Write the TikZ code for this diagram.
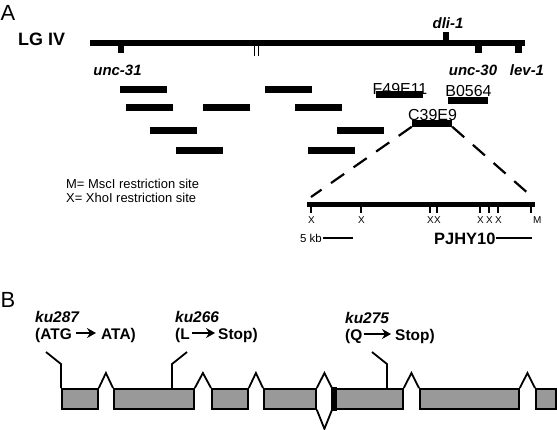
\documentclass[tikz,border=0pt]{standalone}
\usepackage{fontspec}
\setmainfont{Liberation Sans}
\usetikzlibrary{arrows.meta,positioning,calc}
\tikzset{
  clonebar/.style={rectangle,fill=black,inner sep=0pt,minimum width=47bp,minimum height=7bp},
  locus/.style={rectangle,fill=black,inner sep=0pt,minimum width=6.5bp,minimum height=8bp},
  genelabel/.style={font=\fontsize{15}{15}\selectfont\bfseries\itshape,inner sep=0pt},
  clonelabel/.style={font=\fontsize{16}{16}\selectfont,inner sep=0pt},
  sitelabel/.style={font=\fontsize{10}{10}\selectfont,inner sep=0pt},
  legendtext/.style={font=\fontsize{13}{13}\selectfont,inner sep=0pt,anchor=base west},
  panel/.style={font=\fontsize{22}{22}\selectfont,inner sep=0pt,anchor=base west},
  zoomline/.style={line width=2.2bp,dash pattern=on 16bp off 11.5bp},
  exon/.style={draw,fill=black!40,line width=1.8bp,inner sep=0pt,minimum height=20bp,anchor=north west},
  intron/.style={line width=1.8bp},
  pointer/.style={line width=1.8bp},
  mutlabel/.style={font=\fontsize{15.5}{15.5}\selectfont\bfseries,inner sep=0pt,anchor=base west},
  mutarrow/.style={line width=2.2bp,-{Stealth[length=9bp,width=10bp,inset=3bp]}}
}
\begin{document}
\begin{tikzpicture}[x=1bp,y=-1bp]
\useasboundingbox (0,0) rectangle (557,429);

% A: linkage group
\node[panel] (pA) at (0.5,20) {A};
\node[font=\fontsize{18}{18}\selectfont\bfseries,inner sep=0pt,anchor=base west] (lg) at (18,45) {LG IV};
\coordinate (lgL) at (90,42.5);
\coordinate (lgR) at (525,42.5);
\draw[line width=6bp] (lgL) -- (lgR);
\node[locus,anchor=north] (unc31m) at (121,45) {};
\node[locus,anchor=south] (dli1m) at (446,40) {};
\node[locus,anchor=north] (unc30m) at (478.5,45) {};
\node[locus,anchor=north] (lev1m) at (518.5,45) {};
\draw[line width=1.6bp] (254.5,46) -- (254.5,55.5) (258.5,46) -- (258.5,55.5);

\node[genelabel,anchor=base] (unc31) at (117.5,75) {unc-31};
\node[genelabel,anchor=base] (dli1) at (448,28) {dli-1};
\node[genelabel,anchor=base] (unc30) at (473,75) {unc-30};
\node[genelabel,anchor=base] (lev1) at (527,75) {lev-1};

% contig
\foreach \x/\y [count=\i] in {143/89.5,288.5/89.5,149/107,226.5/107,318.5/107,
                              173/130.5,360.5/130.5,199.5/150.5,331.5/150.5}
  \node[clonebar] (yac\i) at (\x,\y) {};

\node[clonebar] (f49e11) at (399.5,94) {};
\node[clonebar,minimum width=40bp] (b0564) at (468,100.5) {};
\node[clonebar,minimum width=40bp] (c39e9) at (432,123) {};
\node[clonelabel,anchor=base] at (400,94) {F49E11};
\node[clonelabel,anchor=base] at (468.5,96) {B0564};
\node[clonelabel,anchor=base] at (432.5,120) {C39E9};

% restriction map of the cosmid
\coordinate (mapL) at (307,204.5);
\coordinate (mapR) at (535,204.5);
\coordinate (zoomL) at (311,197);
\coordinate (zoomR) at (534,198.5);
\draw[zoomline] (c39e9.south west) -- (zoomL);
\draw[zoomline] (c39e9.south east) -- (zoomR);
\draw[line width=4.5bp] (mapL) -- (mapR);
\foreach \x [count=\i] in {311,361,430,437,480,489,498}
  {
    \draw[line width=1.5bp] (\x,206) -- (\x,213);
    \node[sitelabel,anchor=base] (x\i) at (\x+0.5,223) {X};
  }
\draw[line width=1.5bp] (531,206) -- (531,213);
\node[sitelabel,anchor=base west] (m1) at (533,223) {M};

\node[font=\fontsize{11.5}{11.5}\selectfont,inner sep=0pt,anchor=base east] (kb) at (322,242) {5 kb};
\draw[line width=1.5bp] (323,238) -- (353,238);
\node[font=\fontsize{16.5}{16.5}\selectfont\bfseries,inner sep=0pt,anchor=base west] (pjhy) at (434,244) {PJHY10};
\draw[line width=1.5bp] (pjhy.east |- 0,238) -- (532,238);

\node[legendtext] (legM) at (66,188) {M= MscI restriction site};
\node[legendtext] (legX) at (66,202) {X= XhoI restriction site};

% B: gene structure
\node[panel] (pB) at (0.5,307) {B};
\foreach \a/\b [count=\i] in {61/97,113/193,211/247,263/315,332/402,419/518,535/555}
  \node[exon,minimum width={(\b-\a)*1bp}] (ex\i) at (\a,388) {};
\foreach \i/\j in {1/2,2/3,3/4,5/6,6/7}
  \draw[intron] (ex\i.north east) -- ($(ex\i.north east)!0.5!(ex\j.north west)+(0,-15)$) -- (ex\j.north west);
\draw[intron] (ex4.north east) -- ($(ex4.north east)!0.5!(ex5.north west)+(0,-15)$) -- (ex5.north west);
\draw[intron] (ex4.south east) -- ($(ex4.south east)!0.5!(ex5.south west)+(0,19)$) -- (ex5.south west);
\fill ($(ex5.north west)+(-0.9,-0.9)$) rectangle ($(ex5.south west)+(5,0.9)$);

\node[genelabel,font=\fontsize{15.5}{15.5}\selectfont\bfseries\itshape,anchor=base west] (ku287) at (35,322) {ku287};
\node[mutlabel] (ku287a) at (35,339) {(ATG};
\node[mutlabel] (ku287b) at (101,339) {ATA)};
\draw[mutarrow] ([xshift=4bp]ku287a.east |- 0,333) -- ([xshift=-5bp]ku287b.west |- 0,333);

\node[genelabel,font=\fontsize{15.5}{15.5}\selectfont\bfseries\itshape,anchor=base west] (ku266) at (175,322) {ku266};
\node[mutlabel] (ku266a) at (175,339) {(L};
\node[mutlabel] (ku266b) at (218,339) {Stop)};
\draw[mutarrow] ([xshift=2bp]ku266a.east |- 0,333) -- ([xshift=-3bp]ku266b.west |- 0,333);

\node[genelabel,font=\fontsize{15.5}{15.5}\selectfont\bfseries\itshape,anchor=base west] (ku275) at (345,323) {ku275};
\node[mutlabel] (ku275a) at (345,340) {(Q};
\node[mutlabel] (ku275b) at (395,340) {Stop)};
\draw[mutarrow] ([xshift=1bp]ku275a.east |- 0,334) -- ([xshift=-4bp]ku275b.west |- 0,334);

\draw[pointer] (ex1.north west) -- ++(0,-24) -- ++(-15,-12);
\draw[pointer] ($(ex2.north west)+(59,0)$) -- ++(0,-24) -- ++(15,-12);
\draw[pointer] ($(ex5.north west)+(55,0)$) -- ++(0,-24) -- ++(-15,-12);
\end{tikzpicture}
\end{document}
